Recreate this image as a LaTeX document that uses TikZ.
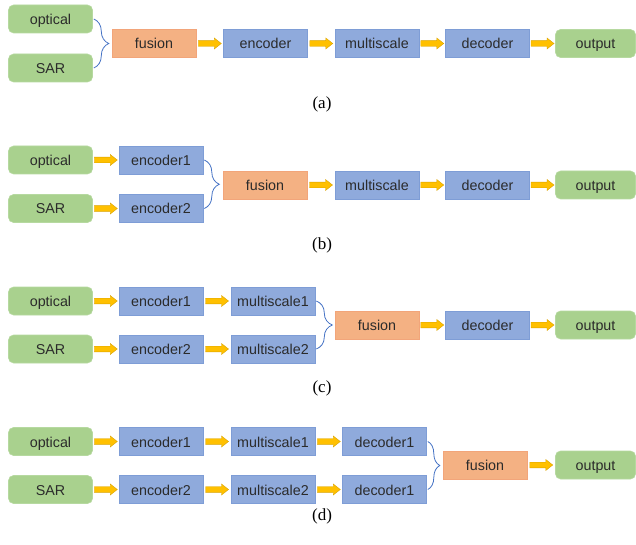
\documentclass[tikz,border=0pt]{standalone}
\usepackage{fontspec}
\setmainfont{Liberation Serif}
\newfontfamily\boxfont{Liberation Sans}
\usetikzlibrary{calc,decorations.pathreplacing}

\definecolor{greenfill}{HTML}{A9D18E}
\definecolor{greenedge}{HTML}{B6D9A0}
\definecolor{bluefill}{HTML}{8FAADC}
\definecolor{blueedge}{HTML}{7E9DD6}
\definecolor{orangefill}{HTML}{F4B183}
\definecolor{orangeedge}{HTML}{F2A57A}
\definecolor{arrowfill}{HTML}{FFC000}
\definecolor{arrowedge}{HTML}{D9A300}
\definecolor{bracecol}{HTML}{4472C4}
\definecolor{txt}{HTML}{2B2B2B}

\tikzset{
  box/.style={minimum width=84pt, minimum height=28pt, inner sep=0pt,
    text height=11pt, text depth=0pt,
    line width=0.6pt, font=\boxfont\fontsize{14.3}{17}\selectfont, text=txt},
  gbox/.style={box, rounded corners=5pt, draw=greenedge, fill=greenfill},
  bbox/.style={box, draw=blueedge, fill=bluefill},
  obox/.style={box, draw=orangeedge, fill=orangefill},
  outbox/.style={gbox, minimum width=80pt},
  caption/.style={font=\fontsize{17}{20}\selectfont},
  blk/.style={draw=arrowedge, fill=arrowfill, line width=0.4pt,
    to path={let \p3=($(\tikztostart)!0.5!(\tikztotarget)$) in
      (\x3-11.5pt,\y3+2.8pt) -- (\x3+4.5pt,\y3+2.8pt) -- (\x3+4.5pt,\y3+5.5pt)
      -- (\x3+11.5pt,\y3) -- (\x3+4.5pt,\y3-5.5pt) -- (\x3+4.5pt,\y3-2.8pt)
      -- (\x3-11.5pt,\y3-2.8pt) -- cycle}},
  curly/.style={draw=bracecol, line width=0.8pt, decorate,
    decoration={brace, amplitude=#1}}
}

\begin{document}
\begin{tikzpicture}[x=1pt,y=-1pt]
\useasboundingbox (0,0) rectangle (636,545);

% (a) early fusion
\node[gbox] (oa) at (50.5,19) {optical};
\node[gbox] (sa) at (50.5,68) {SAR};
\node[obox] (fa) at (154,43.5) {fusion};
\node[bbox] (ea) at (265.5,43.5) {encoder};
\node[bbox] (ma) at (377,43.5) {multiscale};
\node[bbox] (da) at (487.5,43.5) {decoder};
\node[outbox] (ua) at (595.5,43.5) {output};
\draw[curly=15pt] ([xshift=1pt]oa.east) -- ([xshift=1pt]sa.east);
\draw[blk] (fa.east) to (ea.west);
\draw[blk] (ea.east) to (ma.west);
\draw[blk] (ma.east) to (da.west);
\draw[blk] (da.east) to (ua.west);
\node[caption] (la) at (322,104) {(a)};

% (b) fusion after the encoders
\node[gbox] (ob) at (50.5,160) {optical};
\node[gbox] (sb) at (50.5,208.5) {SAR};
\node[bbox] (e1b) at (161,160) {encoder1};
\node[bbox] (e2b) at (161,208.5) {encoder2};
\node[obox] (fb) at (265,185) {fusion};
\node[bbox] (mb) at (377,185) {multiscale};
\node[bbox] (db) at (487.5,185) {decoder};
\node[outbox] (ub) at (595.5,185) {output};
\draw[blk] (ob.east) to (e1b.west);
\draw[blk] (sb.east) to (e2b.west);
\draw[curly=15pt] ([xshift=1pt]e1b.east) -- ([xshift=1pt]e2b.east);
\draw[blk] (fb.east) to (mb.west);
\draw[blk] (mb.east) to (db.west);
\draw[blk] (db.east) to (ub.west);
\node[caption] (lb) at (322,245) {(b)};

% (c) fusion after the multiscale stage
\node[gbox] (oc) at (50.5,301) {optical};
\node[gbox] (sc) at (50.5,349) {SAR};
\node[bbox] (e1c) at (161,301) {encoder1};
\node[bbox] (e2c) at (161,349) {encoder2};
\node[bbox] (m1c) at (273,301) {multiscale1};
\node[bbox] (m2c) at (273,349) {multiscale2};
\node[obox] (fc) at (377,325) {fusion};
\node[bbox] (dc) at (487.5,325) {decoder};
\node[outbox] (uc) at (595.5,325) {output};
\draw[blk] (oc.east) to (e1c.west);
\draw[blk] (sc.east) to (e2c.west);
\draw[blk] (e1c.east) to (m1c.west);
\draw[blk] (e2c.east) to (m2c.west);
\draw[curly=16pt] ([xshift=1pt]m1c.east) -- ([xshift=1pt]m2c.east);
\draw[blk] (fc.east) to (dc.west);
\draw[blk] (dc.east) to (uc.west);
\node[caption] (lc) at (322,388) {(c)};

% (d) late fusion after the decoders
\node[gbox] (od) at (50.5,441.5) {optical};
\node[gbox] (sd) at (50.5,489.5) {SAR};
\node[bbox] (e1d) at (161,441.5) {encoder1};
\node[bbox] (e2d) at (161,489.5) {encoder2};
\node[bbox] (m1d) at (273,441.5) {multiscale1};
\node[bbox] (m2d) at (273,489.5) {multiscale2};
\node[bbox] (d1d) at (384.5,441.5) {decoder1};
\node[bbox] (d2d) at (384.5,489.5) {decoder1};
\node[obox] (fd) at (485,465) {fusion};
\node[outbox] (ud) at (595.5,465) {output};
\draw[blk] (od.east) to (e1d.west);
\draw[blk] (sd.east) to (e2d.west);
\draw[blk] (e1d.east) to (m1d.west);
\draw[blk] (e2d.east) to (m2d.west);
\draw[blk] (m1d.east) to (d1d.west);
\draw[blk] (m2d.east) to (d2d.west);
\draw[curly=12pt] ([xshift=1pt]d1d.east) -- ([xshift=1pt]d2d.east);
\draw[blk] (fd.east) to (ud.west);
\node[caption] (ld) at (322,516) {(d)};
\end{tikzpicture}
\end{document}
